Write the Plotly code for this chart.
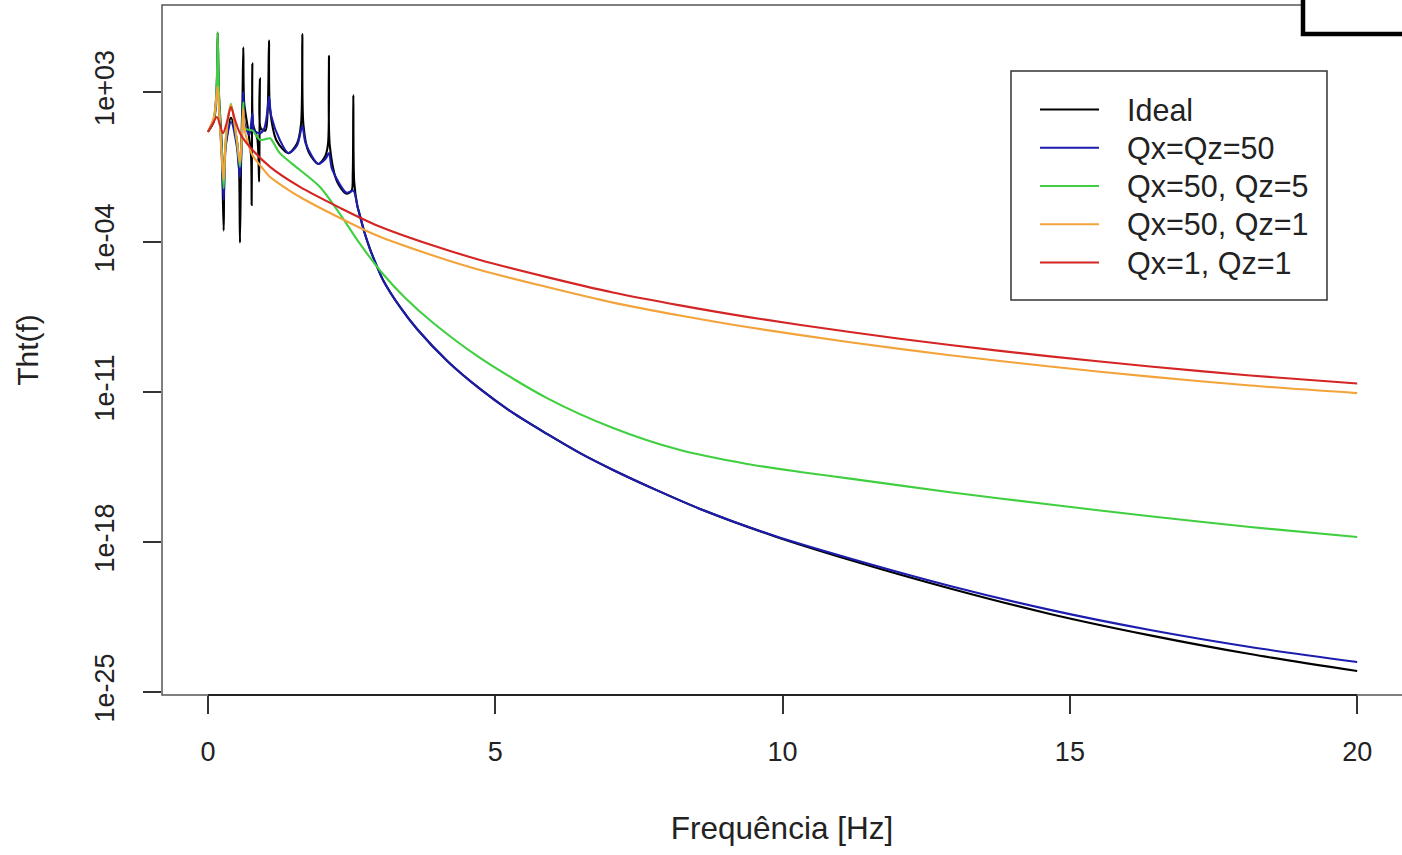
import plotly.graph_objects as go

# ---------------- data ----------------
freq_ideal = [0.00, 0.10, 0.15, 0.169, 0.19, 0.24, 0.273, 0.30, 0.40, 0.50, 0.54, 0.557, 0.58, 0.60, 0.615,
              0.63, 0.70, 0.75, 0.760, 0.765, 0.772, 0.785, 0.86, 0.89, 0.897, 0.905, 0.92, 1.00, 1.04,
              1.062, 1.08, 1.20, 1.40, 1.55, 1.62, 1.642, 1.66, 1.75, 1.92, 2.04, 2.09, 2.106, 2.12, 2.25,
              2.41, 2.50, 2.52, 2.53, 2.545, 2.60, 2.65, 2.72, 2.82, 2.93, 3.046, 3.342, 3.638, 4.178,
              4.735, 5.309, 5.901, 6.475, 7.050, 7.798, 8.564, 9.869, 11.175, 12.915, 14.656, 16.397,
              18.137, 20.0]
tht_ideal = [1.4e1, 4.0e1, 1.0e3, 5.9e5, 1.0e3, 3.2e0, 3.4e-4, 2.0e0, 6.3e1, 6.3e0, 3.2e-1, 9.3e-5, 3.2e0,
             3.2e2, 1.23e5, 3.2e2, 1.6e1, 1.0e0, 5.4e-3, 3.2e0, 2.2e4, 3.2e1, 6.3e0, 6.5e-2, 6.3e0, 4.4e3,
             2.0e1, 1.6e1, 1.6e2, 2.5e5, 1.6e2, 5.0e0, 1.4e0, 4.0e0, 3.2e1, 5.1e5, 3.2e1, 1.6e0, 4.4e-1,
             1.0e0, 4.0e0, 4.8e4, 3.2e0, 6.3e-2, 1.8e-2, 2.5e-2, 1.6e-1, 7.2e2, 6.3e-2, 4.8e-3, 1.5e-3,
             3.0e-4, 4.7e-5, 8.5e-6, 1.7e-6, 9.3e-8, 8.7e-9, 2.6e-10, 1.4e-11, 1.05e-12, 1.1e-13, 1.4e-14,
             2.3e-15, 2.7e-16, 3.5e-17, 1.82e-18, 1.45e-19, 6.8e-21, 4.4e-22, 4.4e-23, 5.9e-24, 9.5e-25]

freq_q50 = [0.00, 0.10, 0.15, 0.169, 0.19, 0.24, 0.273, 0.31, 0.40, 0.50, 0.557, 0.60, 0.615, 0.64, 0.72,
            0.772, 0.80, 0.905, 0.98, 1.03, 1.062, 1.10, 1.25, 1.40, 1.55, 1.642, 1.70, 1.92, 2.05, 2.106,
            2.16, 2.41, 2.53, 2.60, 2.65, 2.72, 2.82, 2.93, 3.046, 3.342, 3.638, 4.178, 4.735, 5.309,
            5.901, 6.475, 7.050, 7.798, 8.564, 9.869, 11.175, 12.915, 14.656, 16.397, 18.137, 20.0]
tht_q50 = [1.4e1, 5.0e1, 1.0e3, 1.0e5, 3.2e2, 1.0e0, 9.1e-3, 3.2e0, 4.0e1, 3.2e0, 1.0e-1, 3.2e1, 1.0e3,
           3.2e1, 1.0e1, 1.0e2, 1.6e1, 1.2e1, 2.0e1, 1.0e2, 6.0e2, 7.9e1, 5.8e0, 1.4e0, 3.2e0, 2.6e1,
           4.0e0, 4.4e-1, 7.9e-1, 1.4e0, 2.5e-1, 2.0e-2, 2.5e-2, 4.8e-3, 1.5e-3, 3.0e-4, 4.7e-5, 8.5e-6,
           1.7e-6, 9.3e-8, 8.7e-9, 2.6e-10, 1.4e-11, 1.05e-12, 1.1e-13, 1.4e-14, 2.3e-15, 2.7e-16,
           3.5e-17, 1.9e-18, 1.7e-19, 8.9e-21, 6.8e-22, 7.8e-23, 1.26e-23, 2.5e-24]

freq_q50_5 = [0.00, 0.10, 0.15, 0.169, 0.19, 0.24, 0.273, 0.31, 0.40, 0.50, 0.557, 0.60, 0.615, 0.64,
              0.772, 0.905, 1.00, 1.08, 1.25, 1.601, 1.950, 2.298, 2.646, 3.046, 3.429, 3.916, 4.735,
              5.901, 7.050, 8.216, 9.382, 10.305, 11.175, 12.915, 14.656, 16.397, 18.137, 20.0]
tht_q50_5 = [1.4e1, 5.0e1, 1.6e3, 5.9e5, 1.0e3, 1.6e0, 3.2e-2, 6.3e0, 2.8e2, 6.3e0, 3.2e-1, 3.2e1, 3.2e2,
             2.0e1, 1.6e1, 5.8e0, 6.3e0, 6.9e0, 1.4e0, 2.3e-1, 3.7e-2, 2.0e-3, 8.1e-5, 3.2e-6, 2.5e-7,
             1.7e-8, 3.9e-10, 5.2e-12, 2.1e-13, 1.95e-14, 4.4e-15, 1.86e-15, 9.1e-16, 2.1e-16, 5.6e-17,
             1.6e-17, 5.0e-18, 1.7e-18]

freq_q50_1 = [0.00, 0.10, 0.15, 0.169, 0.19, 0.24, 0.273, 0.31, 0.40, 0.50, 0.557, 0.60, 0.615, 0.64,
              0.772, 0.905, 1.08, 1.30, 1.601, 2.298, 2.942, 3.864, 4.735, 5.901, 7.050, 8.216, 9.382,
              11.175, 12.915, 14.656, 16.397, 18.137, 20.0]
tht_q50_1 = [1.4e1, 6.3e1, 6.3e2, 1.8e3, 2.0e2, 1.0e0, 7.9e-2, 6.3e0, 2.5e2, 6.3e0, 5.0e-1, 3.2e1, 1.6e2,
             1.6e1, 1.15e0, 3.9e-1, 1.07e-1, 4.1e-2, 1.26e-2, 1.32e-3, 2.0e-4, 2.6e-5, 4.9e-6, 7.9e-7,
             1.48e-7, 3.7e-8, 1.07e-8, 2.1e-9, 5.2e-10, 1.55e-10, 5.2e-11, 2.0e-11, 8.9e-12]

freq_q1_1 = [0.00, 0.08, 0.157, 0.26, 0.33, 0.40, 0.47, 0.557, 0.73, 1.08, 1.601, 2.298, 2.942, 3.864,
             4.735, 5.901, 7.050, 8.216, 9.382, 11.175, 12.915, 14.656, 16.397, 18.137, 20.0]
tht_q1_1 = [1.35e1, 3.2e1, 6.8e1, 1.2e1, 4.0e1, 2.0e2, 5.0e1, 1.2e1, 2.7e0, 3.2e-1, 3.7e-2, 3.9e-3, 5.9e-4,
            7.6e-5, 1.45e-5, 2.3e-6, 4.4e-7, 1.1e-7, 3.2e-8, 6.3e-9, 1.55e-9, 4.6e-10, 1.55e-10,
            5.9e-11, 2.5e-11]

series_names = ["Ideal", "Qx=Qz=50", "Qx=50, Qz=5", "Qx=50, Qz=1", "Qx=1, Qz=1"]
series_colors = ["#000000", "#1c1cae", "#40cf40", "#f2a33a", "#d42424"]
series_x = [freq_ideal, freq_q50, freq_q50_5, freq_q50_1, freq_q1_1]
series_y = [tht_ideal, tht_q50, tht_q50_5, tht_q50_1, tht_q1_1]

x_ticks = [0, 5, 10, 15, 20]
y_ticks = [1e3, 1e-4, 1e-11, 1e-18, 1e-25]
y_ticktext = ["1e+03", "1e-04", "1e-11", "1e-18", "1e-25"]

x_title = "Frequência [Hz]"
y_title = "Tht(f)"

# ---------------- figure ----------------
W, H = 1402, 855
ML, MR, MT, MB = 162, 0, 5, 160
FONT = "Liberation Sans, Arial, sans-serif"

fig = go.Figure()
for xs, ys, name, col in zip(series_x, series_y, series_names, series_colors):
    fig.add_trace(go.Scatter(x=xs, y=ys, mode="lines", name=name,
                             line=dict(color=col, width=2.1, shape="spline", smoothing=0.8),
                             showlegend=False))

fig.update_layout(
    width=W, height=H,
    margin=dict(l=ML, r=MR, t=MT, b=MB, pad=0),
    paper_bgcolor="white", plot_bgcolor="white",
    font=dict(family=FONT, color="#222"),
    showlegend=False,
)
fig.update_xaxes(
    range=[-0.8, 20.78], showgrid=False, zeroline=False, showline=False,
    tickmode="array", tickvals=x_ticks, ticks="outside", ticklen=18, tickwidth=1.5,
    tickcolor="#333", tickfont=dict(size=27, family=FONT, color="#222"),
    ticklabelstandoff=15,
    title=dict(text=x_title, font=dict(size=31.5, family=FONT, color="#222"), standoff=50),
)
fig.update_yaxes(
    type="log", range=[-25.14, 7.06], showgrid=False, zeroline=False, showline=False,
    tickmode="array", tickvals=y_ticks, ticktext=y_ticktext, tickangle=-90,
    ticks="outside", ticklen=18, tickwidth=1.5, tickcolor="#333",
    tickfont=dict(size=27, family=FONT, color="#222"), ticklabelstandoff=18,
    title=dict(text=y_title, font=dict(size=30, family=FONT, color="#222"), standoff=42),
)

# plot frame (R box); right edge falls just outside the window
fig.add_shape(type="rect", xref="paper", yref="paper", x0=0, x1=1.01, y0=0, y1=1,
              line=dict(color="#555", width=1.5), layer="above")
# darker R axis line segment along the bottom, from first to last tick
fig.add_shape(type="line", xref="x", yref="paper", x0=x_ticks[0], x1=x_ticks[-1], y0=0, y1=0,
              line=dict(color="#222", width=2), layer="above")

# legend (R style box)
pw = W - ML - MR
ph = H - MT - MB
def px2paper_x(px):
    return (px - ML) / pw
def px2paper_y(py):
    return (H - MB - py) / ph

fig.add_shape(type="rect", xref="paper", yref="paper",
              x0=px2paper_x(1011), x1=px2paper_x(1327), y0=px2paper_y(300), y1=px2paper_y(71),
              line=dict(color="#333", width=1.5), fillcolor="white", layer="above")
row0, row_gap = 109.5, 38.25
for i, (name, col) in enumerate(zip(series_names, series_colors)):
    yy = px2paper_y(row0 + i * row_gap)
    fig.add_shape(type="line", xref="paper", yref="paper",
                  x0=px2paper_x(1040), x1=px2paper_x(1099), y0=yy, y1=yy,
                  line=dict(color=col, width=2.1), layer="above")
    fig.add_annotation(xref="paper", yref="paper", x=px2paper_x(1125), y=yy, text=name,
                       showarrow=False, xanchor="left", yanchor="middle",
                       font=dict(size=30.5, family=FONT, color="#222"))

# thick box that overlaps the top-right corner of the picture
fig.add_shape(type="rect", xref="paper", yref="paper",
              x0=px2paper_x(1303), x1=px2paper_x(1460), y0=px2paper_y(34), y1=px2paper_y(-40),
              line=dict(color="black", width=4.5), fillcolor="white", layer="above")

fig.write_html("out.html")
